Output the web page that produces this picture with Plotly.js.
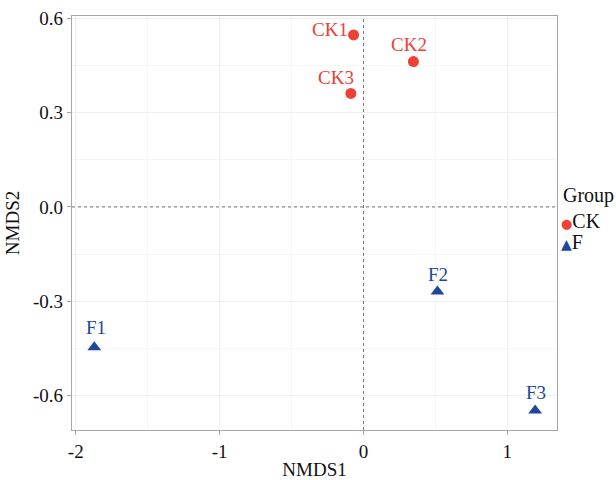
<!DOCTYPE html>
<html>
<head>
<meta charset="utf-8">
<script src="https://cdn.plot.ly/plotly-3.0.1.min.js"></script>
<style>html,body{margin:0;padding:0;background:#fff;}#chart{width:616px;height:480px;}</style>
</head>
<body>
<div id="chart"></div>
<script>
// Data
const groups = ["CK", "F"];
const legendTitle = "Group";
const ckLabels = ["CK1", "CK2", "CK3"];
const ckX = [-0.069, 0.347, -0.088];
const ckY = [0.547, 0.462, 0.361];
const fLabels = ["F1", "F2", "F3"];
const fX = [-1.871, 0.514, 1.193];
const fY = [-0.446, -0.269, -0.647];
const xTicks = [-2, -1, 0, 1];
const yTicks = [-0.6, -0.3, 0.0, 0.3, 0.6];
const yTickText = ["-0.6", "-0.3", "0.0", "0.3", "0.6"];

// Styles
const red = "#EE4035";
const blue = "#1C479E";
const serif = "Liberation Serif, Times New Roman, serif";
const ckShift = [[-24, 5], [-4, 17], [-15, 16]];
const fShift = [[2, 20], [1, 17], [1, 18]];
const groupColors = [red, blue];
const groupGlyphs = ["●", "▲"];
const glyphSize = [13, 14];
const legendY = [0.506, 0.455];

const traces = [
  {x: ckX, y: ckY, name: groups[0], type: "scatter", mode: "markers",
   marker: {color: red, size: 11, symbol: "circle"}},
  {x: fX, y: fY, name: groups[1], type: "scatter", mode: "markers",
   marker: {color: blue, size: 12, symbol: "triangle-up"}}
];

const annotations = [];
ckLabels.forEach((t, i) => annotations.push({x: ckX[i], y: ckY[i], text: t, showarrow: false,
  xshift: ckShift[i][0], yshift: ckShift[i][1], font: {family: serif, size: 19, color: red}}));
fLabels.forEach((t, i) => annotations.push({x: fX[i], y: fY[i], text: t, showarrow: false,
  xshift: fShift[i][0], yshift: fShift[i][1], font: {family: serif, size: 19, color: blue}}));

// Legend (drawn as text so it sits exactly as in the reference)
annotations.push({xref: "paper", yref: "paper", x: 1.008, y: 0.5676, xanchor: "left", yanchor: "middle",
  text: legendTitle, showarrow: false, font: {family: serif, size: 20, color: "#111"}});
groups.forEach((g, i) => annotations.push({xref: "paper", yref: "paper", x: 1.005, y: legendY[i],
  xanchor: "left", yanchor: "middle", showarrow: false,
  text: '<span style="color:' + groupColors[i] + ';font-size:' + glyphSize[i] +
        'px;font-family:DejaVu Sans">' + groupGlyphs[i] + '</span>' + g,
  font: {family: serif, size: 20, color: "#111"}}));

const axisCommon = {
  showline: true, mirror: true, linecolor: "#A6A6A6", linewidth: 1.2,
  ticks: "outside", ticklen: 4, tickcolor: "#A6A6A6", tickwidth: 1,
  showgrid: true, gridcolor: "#EFEFEF", gridwidth: 1, zeroline: false,
  tickfont: {family: serif, size: 19, color: "#111"}
};

const layout = {
  width: 616, height: 480,
  margin: {l: 72, r: 59, t: 16, b: 50},
  paper_bgcolor: "#fff", plot_bgcolor: "#fff",
  showlegend: false,
  xaxis: Object.assign({}, axisCommon, {
    range: [-2.026, 1.345], tickvals: xTicks, ticktext: xTicks.map(String),
    minor: {tickvals: [-1.5, -0.5, 0.5], showgrid: true, gridcolor: "#F6F6F6", ticks: ""},
    title: {text: "NMDS1", font: {family: serif, size: 19, color: "#111"}, standoff: 8}
  }),
  yaxis: Object.assign({}, axisCommon, {
    range: [-0.709, 0.607], tickvals: yTicks, ticktext: yTickText,
    minor: {tickvals: [-0.45, -0.15, 0.15, 0.45], showgrid: true, gridcolor: "#F6F6F6", ticks: ""},
    title: {text: "NMDS2", font: {family: serif, size: 19, color: "#111"}, standoff: 8}
  }),
  shapes: [
    {type: "line", xref: "x", yref: "paper", x0: 0, x1: 0, y0: 0, y1: 1,
     line: {color: "#777", width: 1, dash: "dot"}},
    {type: "line", xref: "paper", yref: "y", x0: 0, x1: 1, y0: 0, y1: 0,
     line: {color: "#777", width: 1, dash: "dot"}}
  ],
  annotations: annotations
};

Plotly.newPlot("chart", traces, layout, {displayModeBar: false, staticPlot: true});
</script>
</body>
</html>
